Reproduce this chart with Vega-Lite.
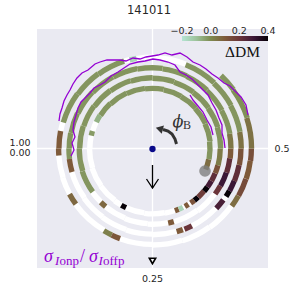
{
  "$schema": "https://vega.github.io/schema/vega-lite/v6.json",
  "width": 231,
  "height": 239,
  "autosize": {"type": "none"},
  "padding": {"left": 37, "top": 29, "right": 30, "bottom": 30},
  "background": "white",
  "view": {"fill": "#eaeaf2", "stroke": null},
  "config": {"view": {"fill": "#eaeaf2", "stroke": null}, "font": "DejaVu Sans"},
  "datasets": {
    "spiral": [
      {"a":0.44,"b":0.47,"dm":0.06},
      {"a":0.47,"b":0.52,"dm":-0.02},{"a":0.52,"b":0.57,"dm":-0.02},{"a":0.57,"b":0.62,"dm":-0.02},{"a":0.62,"b":0.67,"dm":-0.02},{"a":0.67,"b":0.72,"dm":-0.02},{"a":0.72,"b":0.77,"dm":-0.02},{"a":0.77,"b":0.82,"dm":-0.02},{"a":0.82,"b":0.87,"dm":-0.02},{"a":0.87,"b":0.91,"dm":-0.02},
      {"a":0.91,"b":0.93,"dm":-0.07},{"a":0.93,"b":0.955,"dm":null},{"a":0.955,"b":0.967,"dm":-0.03},{"a":0.967,"b":1.0,"dm":null},
      {"a":1.0,"b":1.05,"dm":null},{"a":1.05,"b":1.1,"dm":null},{"a":1.1,"b":1.15,"dm":null},{"a":1.15,"b":1.17,"dm":null},{"a":1.17,"b":1.183,"dm":0.4},
      {"a":1.183,"b":1.23,"dm":null},{"a":1.23,"b":1.28,"dm":null},{"a":1.28,"b":1.305,"dm":null},
      {"a":1.305,"b":1.315,"dm":0.1},{"a":1.315,"b":1.326,"dm":-0.15},{"a":1.326,"b":1.331,"dm":null},{"a":1.331,"b":1.341,"dm":0.1},{"a":1.341,"b":1.347,"dm":null},{"a":1.347,"b":1.358,"dm":0.12},
      {"a":1.358,"b":1.37,"dm":0.4},{"a":1.37,"b":1.39,"dm":0.18},{"a":1.39,"b":1.403,"dm":0.4},{"a":1.403,"b":1.42,"dm":0.28},{"a":1.42,"b":1.44,"dm":0.22},{"a":1.44,"b":1.46,"dm":0.12},{"a":1.46,"b":1.5,"dm":0.03},
      {"a":1.5,"b":1.55,"dm":-0.02},{"a":1.55,"b":1.6,"dm":-0.02},{"a":1.6,"b":1.65,"dm":-0.02},{"a":1.65,"b":1.7,"dm":-0.02},{"a":1.7,"b":1.75,"dm":-0.02},{"a":1.75,"b":1.8,"dm":-0.02},{"a":1.8,"b":1.85,"dm":-0.02},{"a":1.85,"b":1.9,"dm":-0.02},{"a":1.9,"b":1.95,"dm":-0.02},{"a":1.95,"b":2.0,"dm":-0.02},
      {"a":2.0,"b":2.05,"dm":-0.02},{"a":2.05,"b":2.1,"dm":-0.02},{"a":2.1,"b":2.128,"dm":null},{"a":2.128,"b":2.142,"dm":0.07},
      {"a":2.142,"b":2.19,"dm":null},{"a":2.19,"b":2.24,"dm":null},{"a":2.24,"b":2.283,"dm":null},{"a":2.283,"b":2.295,"dm":0.1},{"a":2.295,"b":2.35,"dm":null},{"a":2.35,"b":2.4,"dm":null},
      {"a":2.4,"b":2.42,"dm":0.2},{"a":2.42,"b":2.45,"dm":0.3},{"a":2.45,"b":2.48,"dm":0.22},{"a":2.48,"b":2.5,"dm":0.1},{"a":2.5,"b":2.53,"dm":0.04},
      {"a":2.53,"b":2.58,"dm":-0.02},{"a":2.58,"b":2.63,"dm":-0.02},{"a":2.63,"b":2.68,"dm":-0.02},{"a":2.68,"b":2.73,"dm":-0.02},{"a":2.73,"b":2.78,"dm":-0.02},{"a":2.78,"b":2.83,"dm":-0.02},{"a":2.83,"b":2.88,"dm":-0.02},{"a":2.88,"b":2.93,"dm":-0.02},{"a":2.93,"b":2.97,"dm":-0.02},{"a":2.97,"b":3.0,"dm":-0.02},
      {"a":3.0,"b":3.02,"dm":-0.02},{"a":3.02,"b":3.045,"dm":0.1},{"a":3.045,"b":3.1,"dm":null},{"a":3.1,"b":3.15,"dm":null},{"a":3.15,"b":3.2,"dm":null},{"a":3.2,"b":3.25,"dm":null},{"a":3.25,"b":3.295,"dm":null},
      {"a":3.295,"b":3.307,"dm":0.1},{"a":3.307,"b":3.31,"dm":null},{"a":3.31,"b":3.325,"dm":0.2},{"a":3.325,"b":3.38,"dm":null},{"a":3.38,"b":3.4,"dm":0.27},{"a":3.4,"b":3.408,"dm":null},
      {"a":3.408,"b":3.42,"dm":0.4},{"a":3.42,"b":3.44,"dm":0.3},{"a":3.44,"b":3.47,"dm":0.22},{"a":3.47,"b":3.5,"dm":0.12},{"a":3.5,"b":3.53,"dm":0.05},
      {"a":3.53,"b":3.58,"dm":-0.02},{"a":3.58,"b":3.63,"dm":-0.02},{"a":3.63,"b":3.69,"dm":-0.02},{"a":3.69,"b":3.74,"dm":null},{"a":3.74,"b":3.778,"dm":null},{"a":3.778,"b":3.79,"dm":-0.15},{"a":3.79,"b":3.8,"dm":null},
      {"a":3.8,"b":3.85,"dm":-0.02},{"a":3.85,"b":3.9,"dm":-0.02},{"a":3.9,"b":3.955,"dm":-0.02},{"a":3.955,"b":3.97,"dm":null},{"a":3.97,"b":4.0,"dm":0.1},
      {"a":4.0,"b":4.012,"dm":0.1},{"a":4.012,"b":4.05,"dm":null},{"a":4.05,"b":4.08,"dm":null},{"a":4.08,"b":4.1,"dm":0.07},{"a":4.1,"b":4.165,"dm":null},{"a":4.165,"b":4.18,"dm":0.02},{"a":4.18,"b":4.195,"dm":0.11},
      {"a":4.195,"b":4.25,"dm":null},{"a":4.25,"b":4.3,"dm":null},{"a":4.3,"b":4.35,"dm":null},{"a":4.35,"b":4.4,"dm":null},
      {"a":4.4,"b":4.42,"dm":0.06},{"a":4.42,"b":4.45,"dm":0.14},{"a":4.45,"b":4.48,"dm":0.1},{"a":4.48,"b":4.5,"dm":0.13},{"a":4.5,"b":4.55,"dm":0.05},{"a":4.55,"b":4.6,"dm":-0.01},{"a":4.6,"b":4.63,"dm":-0.02}
    ],
    "purple": [
      {"g":"L1","i":0,"x":0.955,"y":0.335},{"g":"L1","i":1,"x":0.935,"y":0.435},{"g":"L1","i":2,"x":0.885,"y":0.515},{"g":"L1","i":3,"x":0.835,"y":0.565},{"g":"L1","i":4,"x":0.775,"y":0.625},{"g":"L1","i":5,"x":0.715,"y":0.655},{"g":"L1","i":6,"x":0.655,"y":0.705},{"g":"L1","i":7,"x":0.595,"y":0.745},{"g":"L1","i":8,"x":0.535,"y":0.795},{"g":"L1","i":9,"x":0.475,"y":0.835},{"g":"L1","i":10,"x":0.405,"y":0.865},{"g":"L1","i":11,"x":0.345,"y":0.915},{"g":"L1","i":12,"x":0.275,"y":0.955},{"g":"L1","i":13,"x":0.195,"y":0.935},{"g":"L1","i":14,"x":0.125,"y":0.955},{"g":"L1","i":15,"x":0.055,"y":0.935},{"g":"L1","i":16,"x":-0.005,"y":0.925},{"g":"L1","i":17,"x":-0.065,"y":0.915},{"g":"L1","i":18,"x":-0.125,"y":0.895},{"g":"L1","i":19,"x":-0.195,"y":0.905},{"g":"L1","i":20,"x":-0.265,"y":0.875},{"g":"L1","i":21,"x":-0.325,"y":0.885},{"g":"L1","i":22,"x":-0.395,"y":0.885},{"g":"L1","i":23,"x":-0.455,"y":0.885},{"g":"L1","i":24,"x":-0.525,"y":0.865},{"g":"L1","i":25,"x":-0.575,"y":0.845},{"g":"L1","i":26,"x":-0.645,"y":0.785},{"g":"L1","i":27,"x":-0.705,"y":0.755},{"g":"L1","i":28,"x":-0.755,"y":0.705},{"g":"L1","i":29,"x":-0.795,"y":0.645},{"g":"L1","i":30,"x":-0.825,"y":0.585},{"g":"L1","i":31,"x":-0.855,"y":0.535},{"g":"L1","i":32,"x":-0.885,"y":0.475},{"g":"L1","i":33,"x":-0.905,"y":0.405},{"g":"L1","i":34,"x":-0.925,"y":0.345},{"g":"L1","i":35,"x":-0.935,"y":0.275},
      {"g":"L2","i":0,"x":0.725,"y":0.005},{"g":"L2","i":1,"x":0.715,"y":0.085},{"g":"L2","i":2,"x":0.695,"y":0.155},{"g":"L2","i":3,"x":0.695,"y":0.235},{"g":"L2","i":4,"x":0.665,"y":0.305},{"g":"L2","i":5,"x":0.635,"y":0.385},{"g":"L2","i":6,"x":0.595,"y":0.455},{"g":"L2","i":7,"x":0.555,"y":0.535},{"g":"L2","i":8,"x":0.505,"y":0.585},{"g":"L2","i":9,"x":0.455,"y":0.635},{"g":"L2","i":10,"x":0.395,"y":0.695},{"g":"L2","i":11,"x":0.335,"y":0.735},{"g":"L2","i":12,"x":0.275,"y":0.765},{"g":"L2","i":13,"x":0.225,"y":0.835},{"g":"L2","i":14,"x":0.155,"y":0.865},{"g":"L2","i":15,"x":0.075,"y":0.885},{"g":"L2","i":16,"x":0.005,"y":0.895},{"g":"L2","i":17,"x":-0.075,"y":0.875},{"g":"L2","i":18,"x":-0.145,"y":0.865},{"g":"L2","i":19,"x":-0.225,"y":0.845},{"g":"L2","i":20,"x":-0.285,"y":0.805},{"g":"L2","i":21,"x":-0.345,"y":0.765},{"g":"L2","i":22,"x":-0.415,"y":0.725},{"g":"L2","i":23,"x":-0.475,"y":0.665},{"g":"L2","i":24,"x":-0.525,"y":0.635},{"g":"L2","i":25,"x":-0.585,"y":0.605},{"g":"L2","i":26,"x":-0.625,"y":0.555},{"g":"L2","i":27,"x":-0.665,"y":0.515},{"g":"L2","i":28,"x":-0.715,"y":0.465},{"g":"L2","i":29,"x":-0.745,"y":0.405},{"g":"L2","i":30,"x":-0.765,"y":0.335},{"g":"L2","i":31,"x":-0.785,"y":0.265},{"g":"L2","i":32,"x":-0.795,"y":0.185},{"g":"L2","i":33,"x":-0.775,"y":0.115},{"g":"L2","i":34,"x":-0.805,"y":0.055},{"g":"L2","i":35,"x":-0.785,"y":-0.015},{"g":"L2","i":36,"x":-0.815,"y":-0.075},
      {"g":"L3","i":0,"x":0.605,"y":0.135},{"g":"L3","i":1,"x":0.585,"y":0.215},{"g":"L3","i":2,"x":0.545,"y":0.285},{"g":"L3","i":3,"x":0.505,"y":0.365},{"g":"L3","i":4,"x":0.455,"y":0.425},{"g":"L3","i":5,"x":0.405,"y":0.485},{"g":"L3","i":6,"x":0.375,"y":0.535}
    ]
  },
  "layer": [
    {"data": {"values": [{"x": 0}]}, "mark": {"type": "rule", "color": "white", "strokeWidth": 1.3},
     "encoding": {"x": {"field": "x", "type": "quantitative", "scale": {"domain": [-1.155, 1.155], "nice": false, "zero": false}, "axis": null}}},
    {"data": {"values": [{"y": 0}]}, "mark": {"type": "rule", "color": "white", "strokeWidth": 1.3},
     "encoding": {"y": {"field": "y", "type": "quantitative", "scale": {"domain": [-1.195, 1.195], "nice": false, "zero": false}, "axis": null}}},
    {"data": {"name": "spiral"},
     "mark": {"type": "arc", "fill": "white", "radiusOffset": 2.7, "radius2Offset": -2.7},
     "encoding": {
       "theta": {"field": "a", "type": "quantitative", "stack": null, "scale": {"type": "linear", "domain": [0, 1], "range": [4.712389, -1.570796], "zero": false, "nice": false}},
       "theta2": {"field": "b"},
       "radius": {"field": "a", "type": "quantitative", "scale": {"type": "linear", "domain": [0, 5], "range": [52.7, 104.2], "zero": false, "nice": false}},
       "radius2": {"field": "a"}
     }},
    {"data": {"name": "spiral"},
     "transform": [{"filter": "datum.dm != null"}],
     "mark": {"type": "arc", "radiusOffset": 2.7, "radius2Offset": -2.7},
     "encoding": {
       "theta": {"field": "a", "type": "quantitative", "stack": null, "scale": {"type": "linear", "domain": [0, 1], "range": [4.712389, -1.570796], "zero": false, "nice": false}},
       "theta2": {"field": "b"},
       "radius": {"field": "a", "type": "quantitative", "scale": {"type": "linear", "domain": [0, 5], "range": [52.7, 104.2], "zero": false, "nice": false}},
       "radius2": {"field": "a"},
       "color": {"field": "dm", "type": "quantitative",
         "scale": {"domain": [-0.2, -0.1, 0, 0.1, 0.2, 0.3, 0.4], "range": ["#b4e4d4", "#9cc29a", "#7e8a50", "#7e5a3a", "#6a343a", "#3a1636", "#060006"], "interpolate": "rgb"},
         "legend": {"type": "gradient", "orient": "none", "legendX": 145, "legendY": 7, "direction": "horizontal", "gradientLength": 86, "gradientThickness": 5, "title": null,
           "values": [-0.2, 0, 0.2, 0.4], "labelExpr": "''", "labelFontSize": 1, "gradientStrokeWidth": 0}}
     }},
    {"data": {"name": "purple"},
     "mark": {"type": "line", "color": "#9400d3", "strokeWidth": 1.3},
     "encoding": {
       "x": {"field": "x", "type": "quantitative", "scale": {"domain": [-1.155, 1.155], "nice": false, "zero": false}, "axis": null},
       "y": {"field": "y", "type": "quantitative", "scale": {"domain": [-1.195, 1.195], "nice": false, "zero": false}, "axis": null},
       "detail": {"field": "g"},
       "order": {"field": "i", "type": "quantitative"}
     }},
    {"data": {"values": [{"x": 0.525, "y": -0.225}]},
     "mark": {"type": "point", "filled": true, "color": "#7f7f7f", "opacity": 0.8, "size": 135},
     "encoding": {
       "x": {"field": "x", "type": "quantitative", "scale": {"domain": [-1.155, 1.155], "nice": false, "zero": false}, "axis": null},
       "y": {"field": "y", "type": "quantitative", "scale": {"domain": [-1.195, 1.195], "nice": false, "zero": false}, "axis": null}
     }},
    {"data": {"values": [{"x": 0, "y": -0.005}]},
     "mark": {"type": "point", "filled": true, "color": "#0a0a8a", "opacity": 1, "size": 40},
     "encoding": {
       "x": {"field": "x", "type": "quantitative", "scale": {"domain": [-1.155, 1.155], "nice": false, "zero": false}, "axis": null},
       "y": {"field": "y", "type": "quantitative", "scale": {"domain": [-1.195, 1.195], "nice": false, "zero": false}, "axis": null}
     }},
    {"data": {"values": [
       {"g": "s", "i": 0, "x": 0, "y": -0.165}, {"g": "s", "i": 1, "x": 0, "y": -0.395},
       {"g": "h", "i": 0, "x": -0.06, "y": -0.305}, {"g": "h", "i": 1, "x": 0, "y": -0.395}, {"g": "h", "i": 2, "x": 0.06, "y": -0.305}]},
     "mark": {"type": "line", "color": "black", "strokeWidth": 1.3},
     "encoding": {
       "x": {"field": "x", "type": "quantitative", "scale": {"domain": [-1.155, 1.155], "nice": false, "zero": false}, "axis": null},
       "y": {"field": "y", "type": "quantitative", "scale": {"domain": [-1.195, 1.195], "nice": false, "zero": false}, "axis": null},
       "detail": {"field": "g"},
       "order": {"field": "i", "type": "quantitative"}
     }},
    {"data": {"values": [
       {"i": 0, "x": 0.24, "y": 0.045}, {"i": 1, "x": 0.225, "y": 0.095}, {"i": 2, "x": 0.195, "y": 0.145}, {"i": 3, "x": 0.155, "y": 0.175}, {"i": 4, "x": 0.105, "y": 0.19}]},
     "mark": {"type": "line", "color": "#333333", "strokeWidth": 3},
     "encoding": {
       "x": {"field": "x", "type": "quantitative", "scale": {"domain": [-1.155, 1.155], "nice": false, "zero": false}, "axis": null},
       "y": {"field": "y", "type": "quantitative", "scale": {"domain": [-1.195, 1.195], "nice": false, "zero": false}, "axis": null},
       "order": {"field": "i", "type": "quantitative"}
     }},
    {"data": {"values": [{"x": 0.08, "y": 0.195}]},
     "mark": {"type": "point", "shape": "triangle", "filled": true, "color": "#333333", "opacity": 1, "size": 70, "angle": 285},
     "encoding": {
       "x": {"field": "x", "type": "quantitative", "scale": {"domain": [-1.155, 1.155], "nice": false, "zero": false}, "axis": null},
       "y": {"field": "y", "type": "quantitative", "scale": {"domain": [-1.195, 1.195], "nice": false, "zero": false}, "axis": null}
     }},
    {"data": {"values": [{"x": 0, "y": -1.125}]},
     "mark": {"type": "point", "shape": "triangle-down", "filled": false, "color": "black", "opacity": 1, "strokeWidth": 1.6, "size": 40},
     "encoding": {
       "x": {"field": "x", "type": "quantitative", "scale": {"domain": [-1.155, 1.155], "nice": false, "zero": false}, "axis": null},
       "y": {"field": "y", "type": "quantitative", "scale": {"domain": [-1.195, 1.195], "nice": false, "zero": false}, "axis": null}
     }},
    {"data": {"values": [
       {"x": -1.325, "y": 0.06, "t": "1.00"}, {"x": -1.325, "y": -0.04, "t": "0.00"}, {"x": 1.295, "y": 0, "t": "0.5"}, {"x": 0, "y": -1.305, "t": "0.25"},
       {"x": 0.295, "y": 1.18, "t": "\u22120.2"}, {"x": 0.582, "y": 1.18, "t": "0.0"}, {"x": 0.868, "y": 1.18, "t": "0.2"}, {"x": 1.155, "y": 1.18, "t": "0.4"}]},
     "mark": {"type": "text", "font": "DejaVu Sans", "fontSize": 9.5, "color": "#262626", "align": "center", "baseline": "middle"},
     "encoding": {
       "x": {"field": "x", "type": "quantitative", "scale": {"domain": [-1.155, 1.155], "nice": false, "zero": false}, "axis": null},
       "y": {"field": "y", "type": "quantitative", "scale": {"domain": [-1.195, 1.195], "nice": false, "zero": false}, "axis": null},
       "text": {"field": "t"}
     }},
    {"data": {"values": [{"x": -0.035, "y": 1.375, "t": "141011"}]},
     "mark": {"type": "text", "font": "DejaVu Sans", "fontSize": 11.5, "color": "#262626", "align": "center", "baseline": "middle"},
     "encoding": {
       "x": {"field": "x", "type": "quantitative", "scale": {"domain": [-1.155, 1.155], "nice": false, "zero": false}, "axis": null},
       "y": {"field": "y", "type": "quantitative", "scale": {"domain": [-1.195, 1.195], "nice": false, "zero": false}, "axis": null},
       "text": {"field": "t"}
     }},
    {"data": {"values": [{"x": 0.9, "y": 0.915, "t": "ΔDM"}]},
     "mark": {"type": "text", "font": "Liberation Serif", "fontSize": 15.5, "color": "#111111", "align": "center", "baseline": "alphabetic"},
     "encoding": {
       "x": {"field": "x", "type": "quantitative", "scale": {"domain": [-1.155, 1.155], "nice": false, "zero": false}, "axis": null},
       "y": {"field": "y", "type": "quantitative", "scale": {"domain": [-1.195, 1.195], "nice": false, "zero": false}, "axis": null},
       "text": {"field": "t"}
     }},
    {"data": {"values": [{"x": 0.255, "y": 0.215, "t": "ϕ"}]},
     "mark": {"type": "text", "font": "DejaVu Serif", "fontStyle": "italic", "fontSize": 16, "fill": "#333333", "align": "center", "baseline": "alphabetic"},
     "encoding": {
       "x": {"field": "x", "type": "quantitative", "scale": {"domain": [-1.155, 1.155], "nice": false, "zero": false}, "axis": null},
       "y": {"field": "y", "type": "quantitative", "scale": {"domain": [-1.195, 1.195], "nice": false, "zero": false}, "axis": null},
       "text": {"field": "t"}
     }},
    {"data": {"values": [{"x": 0.345, "y": 0.195, "t": "B"}]},
     "mark": {"type": "text", "font": "Liberation Serif", "fontSize": 12, "fill": "#333333", "align": "center", "baseline": "alphabetic"},
     "encoding": {
       "x": {"field": "x", "type": "quantitative", "scale": {"domain": [-1.155, 1.155], "nice": false, "zero": false}, "axis": null},
       "y": {"field": "y", "type": "quantitative", "scale": {"domain": [-1.195, 1.195], "nice": false, "zero": false}, "axis": null},
       "text": {"field": "t"}
     }},
    {"data": {"values": [{"x": -1.085, "y": -1.135, "t": "σ"}, {"x": -0.635, "y": -1.135, "t": "σ"}]},
     "mark": {"type": "text", "font": "Liberation Serif", "fontStyle": "italic", "fontSize": 18, "color": "#9400d3", "align": "left", "baseline": "alphabetic"},
     "encoding": {
       "x": {"field": "x", "type": "quantitative", "scale": {"domain": [-1.155, 1.155], "nice": false, "zero": false}, "axis": null},
       "y": {"field": "y", "type": "quantitative", "scale": {"domain": [-1.195, 1.195], "nice": false, "zero": false}, "axis": null},
       "text": {"field": "t"}
     }},
    {"data": {"values": [{"x": -0.725, "y": -1.135, "t": "/"}]},
     "mark": {"type": "text", "font": "Liberation Serif", "fontSize": 18, "color": "#9400d3", "align": "left", "baseline": "alphabetic"},
     "encoding": {
       "x": {"field": "x", "type": "quantitative", "scale": {"domain": [-1.155, 1.155], "nice": false, "zero": false}, "axis": null},
       "y": {"field": "y", "type": "quantitative", "scale": {"domain": [-1.195, 1.195], "nice": false, "zero": false}, "axis": null},
       "text": {"field": "t"}
     }},
    {"data": {"values": [{"x": -0.975, "y": -1.165, "t": "I"}, {"x": -0.54, "y": -1.165, "t": "I"}]},
     "mark": {"type": "text", "font": "Liberation Serif", "fontStyle": "italic", "fontSize": 13, "color": "#9400d3", "align": "left", "baseline": "alphabetic"},
     "encoding": {
       "x": {"field": "x", "type": "quantitative", "scale": {"domain": [-1.155, 1.155], "nice": false, "zero": false}, "axis": null},
       "y": {"field": "y", "type": "quantitative", "scale": {"domain": [-1.195, 1.195], "nice": false, "zero": false}, "axis": null},
       "text": {"field": "t"}
     }},
    {"data": {"values": [{"x": -0.93, "y": -1.165, "t": "onp"}, {"x": -0.495, "y": -1.165, "t": "offp"}]},
     "mark": {"type": "text", "font": "Liberation Serif", "fontSize": 13, "color": "#9400d3", "align": "left", "baseline": "alphabetic"},
     "encoding": {
       "x": {"field": "x", "type": "quantitative", "scale": {"domain": [-1.155, 1.155], "nice": false, "zero": false}, "axis": null},
       "y": {"field": "y", "type": "quantitative", "scale": {"domain": [-1.195, 1.195], "nice": false, "zero": false}, "axis": null},
       "text": {"field": "t"}
     }}
  ]
}
